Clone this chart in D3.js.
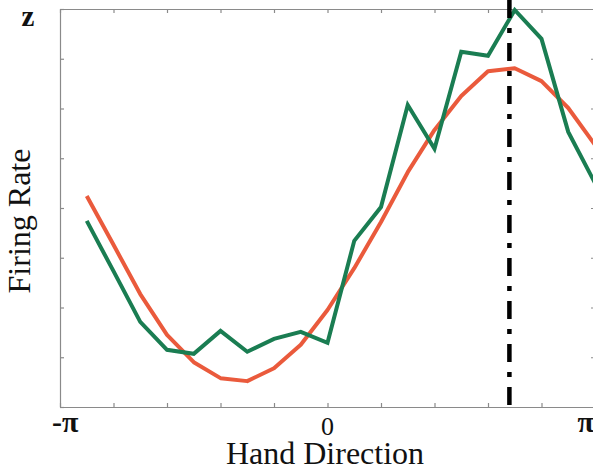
<!DOCTYPE html>
<html><head><meta charset="utf-8">
<script src="https://cdn.jsdelivr.net/npm/d3@7"></script>
<style>html,body{margin:0;padding:0;background:#fff;overflow:hidden}</style>
</head><body>
<script>
// Direction bins (in units of π)
const directions = [-0.9,-0.8,-0.7,-0.6,-0.5,-0.4,-0.3,-0.2,-0.1,0,0.1,0.2,0.3,0.4,0.5,0.6,0.7,0.8,0.9,1.0];
// Observed firing rate (green)
const observed = [3.74,2.73,1.71,1.15,1.07,1.53,1.11,1.37,1.51,1.29,3.34,4.02,6.07,5.19,7.14,7.06,7.98,7.40,5.53,4.50];
// Fitted tuning curve (red)
const fitted = [4.24,3.26,2.27,1.45,0.90,0.58,0.52,0.78,1.25,1.95,2.79,3.72,4.72,5.57,6.25,6.75,6.81,6.55,6.01,5.27];
const preferredDirection = 0.68; // in units of π
const xTickValues = d3.range(-1, 1.0001, 0.2);
const yTickValues = d3.range(0, 8.0001, 1);
const xLabels = [{v:-1, t:"-π"}, {v:0, t:"0"}, {v:1, t:"π"}];

const W = 593, H = 471;
const svg = d3.select("body").append("svg").attr("width", W).attr("height", H);
const x = d3.scaleLinear().domain([-1, 1]).range([60, 595]);
const y = d3.scaleLinear().domain([0, 8]).range([407, 9]);

const axisColor = "#8a8a8a";
function styleAxis(g){
  g.select(".domain").attr("stroke", axisColor).attr("stroke-width", 1.2);
  g.selectAll(".tick line").attr("stroke", axisColor).attr("stroke-width", 1.2);
  g.selectAll(".tick text").remove();
}
svg.append("g").attr("transform", `translate(0,${y(0)})`)
  .call(d3.axisBottom(x).tickValues(xTickValues).tickSizeInner(-4).tickSizeOuter(0)).call(styleAxis);
svg.append("g").attr("transform", `translate(0,${y(8)})`)
  .call(d3.axisTop(x).tickValues(xTickValues).tickSizeInner(-4).tickSizeOuter(0)).call(styleAxis);
svg.append("g").attr("transform", `translate(${x(-1)},0)`)
  .call(d3.axisLeft(y).tickValues(yTickValues).tickSizeInner(-4).tickSizeOuter(0)).call(styleAxis);
svg.append("g").attr("transform", `translate(${x(1)},0)`)
  .call(d3.axisRight(y).tickValues(yTickValues).tickSizeInner(-4).tickSizeOuter(0)).call(styleAxis);

const line = d3.line().x((d,i)=>x(directions[i])).y(d=>y(d));
svg.append("path").datum(fitted).attr("d", line).attr("fill","none")
  .attr("stroke","#ea5a3c").attr("stroke-width",4).attr("stroke-linejoin","round");
svg.append("path").datum(observed).attr("d", line).attr("fill","none")
  .attr("stroke","#1a7d52").attr("stroke-width",4).attr("stroke-linejoin","miter");

svg.append("line").attr("x1", x(preferredDirection)).attr("x2", x(preferredDirection))
  .attr("y1", 0).attr("y2", y(0))
  .attr("stroke","#000").attr("stroke-width",4.5)
  .attr("stroke-dasharray","18,10,5,10");

// tick labels
svg.selectAll("text.xl").data(xLabels).enter().append("text")
  .attr("class","xl")
  .attr("x", d => x(d.v) + (d.v < 0 ? -8 : 0))
  .attr("y", d => d.v === 0 ? 435 : 432)
  .attr("text-anchor", d => d.v < 0 ? "start" : (d.v > 0 ? "end" : "middle"))
  .attr("dx", d => d.v > 0 ? -1 : 0)
  .attr("font-family","Liberation Serif").attr("font-size",d => d.v === 0 ? 26 : 30)
  .attr("font-weight", d => d.v === 0 ? "normal" : "bold")
  .attr("fill","#111")
  .text(d => d.t);

svg.append("text").attr("x", 325).attr("y", 464).attr("text-anchor","middle")
  .attr("font-family","Liberation Serif").attr("font-size",32).attr("fill","#111").text("Hand Direction");
svg.append("text").attr("transform","translate(30,221) rotate(-90)").attr("text-anchor","middle")
  .attr("font-family","Liberation Serif").attr("font-size",32).attr("fill","#111").text("Firing Rate");
svg.append("text").attr("x", 28).attr("y", 26).attr("text-anchor","middle")
  .attr("font-family","Liberation Serif").attr("font-weight","bold").attr("font-size",29).attr("fill","#111").text("z");
</script>
</body></html>
